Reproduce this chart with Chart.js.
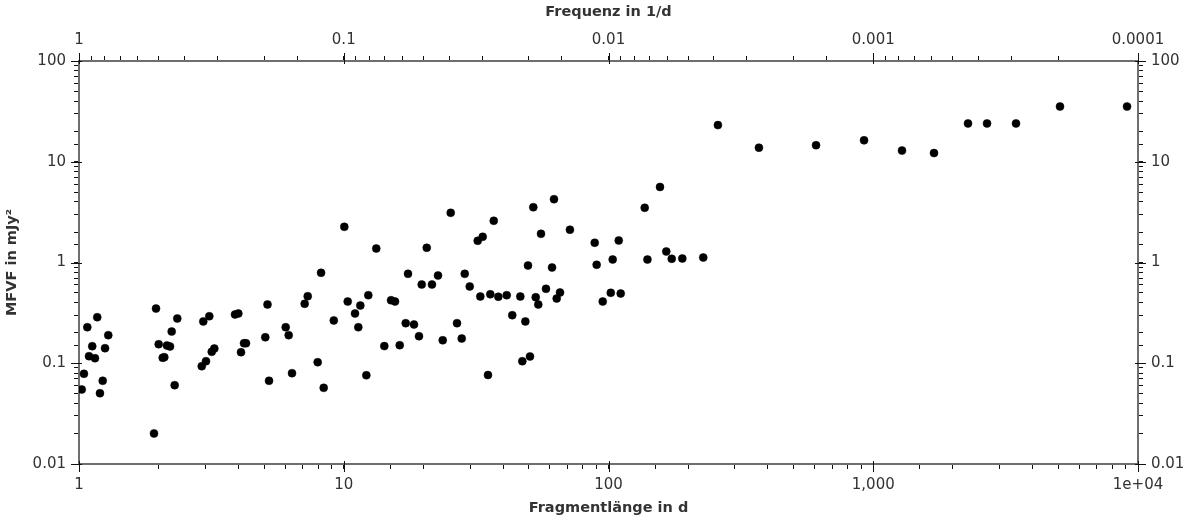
<!DOCTYPE html>
<html>
<head>
<meta charset="utf-8">
<script src="https://cdn.jsdelivr.net/npm/chart.js@4/dist/chart.umd.min.js"></script>
<style>
  html, body { margin: 0; padding: 0; background: #fff; }
</style>
</head>
<body>
<canvas id="c" width="1196" height="521"></canvas>
<script>
// Fragment length in d (x) and MFVF in mJy^2 (y)
const fragmentLength = [
  1.024, 1.044, 1.075, 1.091, 1.122, 1.149, 1.172, 1.200, 1.229, 1.254, 1.290,
  1.920, 1.954, 2.000, 2.071, 2.100, 2.149, 2.207, 2.239, 2.298, 2.351,
  2.908, 3.018, 2.948, 3.106, 3.172, 3.244, 3.884, 3.998, 4.092, 4.200, 4.274,
  5.054, 5.152, 5.221,
  6.035, 6.195, 6.376, 7.118, 7.31, 7.97, 8.21, 8.40, 9.17, 10.05, 10.35,
  11.03, 11.35, 11.55, 12.17, 12.38, 13.27, 14.23, 15.09, 15.62, 16.27,
  17.14, 17.49, 18.42, 19.24, 19.7, 20.58,
  21.54, 22.7, 23.65, 25.35, 26.78, 27.9, 28.64, 29.91, 32.06, 32.8, 33.48,
  35.06, 35.77, 36.86, 38.36, 41.26, 43.3, 46.45, 47.26, 48.52, 49.65, 50.52,
  52.0, 53.1, 54.3, 55.6, 58.06, 61.2, 62.25, 63.73, 65.6, 71.5,
  88.7, 90.2, 95.1, 102, 103.7, 109.3, 111.2, 137, 140.3, 156.5, 165.3,
  173.3, 190, 228,
  259, 370, 608, 923, 1284, 1696, 2280, 2690, 3461, 5075, 9090
];
const mfvf = [
  0.0549, 0.0786, 0.228, 0.1175, 0.1476, 0.1122, 0.2865, 0.0504, 0.067, 0.141, 0.19,
  0.0201, 0.349, 0.1545, 0.1133, 0.115, 0.15, 0.1466, 0.2066, 0.0606, 0.278,
  0.0935, 0.1048, 0.26, 0.293, 0.13, 0.14, 0.305, 0.312, 0.1287, 0.158, 0.158,
  0.181, 0.383, 0.067,
  0.228, 0.19, 0.0797, 0.389, 0.463, 0.1024, 0.79, 0.057, 0.266, 2.26, 0.41,
  0.312, 0.228, 0.374, 0.076, 0.474, 1.377, 0.148, 0.422, 0.41, 0.151,
  0.25, 0.772, 0.2425, 0.1856, 0.605, 1.40,
  0.605, 0.743, 0.169, 3.11, 0.25, 0.176, 0.772, 0.578, 1.642, 0.46, 1.80,
  0.0764, 0.484, 2.594, 0.457, 0.474, 0.30, 0.46, 0.1048, 0.26, 0.934, 0.1167,
  3.54, 0.452, 0.383, 1.927, 0.548, 0.892, 4.25, 0.439, 0.504, 2.116,
  1.57, 0.949, 0.41, 0.50, 1.071, 1.654, 0.492, 3.49, 1.07, 5.62, 1.286,
  1.088, 1.096, 1.121,
  23.1, 13.8, 14.6, 16.3, 12.9, 12.2, 24.0, 24.0, 24.0, 35.3, 35.3
];

const lengthTicks = ["1", "10", "100", "1,000", "1e+04"];
const freqTicks = ["0.0001", "0.001", "0.01", "0.1", "1"];
const mfvfTicks = ["0.01", "0.1", "1", "10", "100"];

const points = fragmentLength.map((x, i) => ({ x: x, y: mfvf[i] }));

const tickFont = { family: "DejaVu Sans", size: 15 };
const titleFont = { family: "DejaVu Sans", size: 14.5, weight: "bold" };
const textColor = "#333";

function isDecade(v) {
  const l = Math.log10(v);
  return Math.abs(l - Math.round(l)) < 1e-6;
}

// label only the powers of ten, minor ticks get an empty label
function decadeLabel(labels, minExp) {
  return function (v) {
    if (!isDecade(v)) return "";
    return labels[Math.round(Math.log10(v)) - minExp] || "";
  };
}

function axis(position, min, max, labels, minExp, size, title, pad) {
  const horizontal = position === "top" || position === "bottom";
  return {
    type: "logarithmic",
    position: position,
    min: min,
    max: max,
    border: { display: true, color: "#6e6e6e", width: 2 },
    grid: { drawOnChartArea: false, drawTicks: true, tickLength: 5, tickColor: "#111", tickWidth: 1 },
    ticks: {
      autoSkip: false,
      maxRotation: 0,
      padding: pad,
      color: textColor,
      font: tickFont,
      callback: decadeLabel(labels, minExp)
    },
    title: title ? { display: true, text: title, color: textColor, font: titleFont, padding: 4 } : { display: false },
    afterFit: function (s) {
      if (horizontal) s.height = size; else s.width = size;
    }
  };
}

// longer marks at the decades
const majorTicks = {
  id: "majorTicks",
  afterDraw(chart) {
    const ctx = chart.ctx;
    ctx.save();
    ctx.strokeStyle = "#111";
    ctx.lineWidth = 1;
    Object.values(chart.scales).forEach(s => {
      s.ticks.forEach(t => {
        if (!isDecade(t.value)) return;
        const p = Math.round(s.getPixelForValue(t.value)) + 0.5;
        ctx.beginPath();
        if (s.position === "bottom") { ctx.moveTo(p, s.top - 3); ctx.lineTo(p, s.top + 8); }
        if (s.position === "top") { ctx.moveTo(p, s.bottom + 3); ctx.lineTo(p, s.bottom - 8); }
        if (s.position === "left") { ctx.moveTo(s.right + 3, p); ctx.lineTo(s.right - 8, p); }
        if (s.position === "right") { ctx.moveTo(s.left - 3, p); ctx.lineTo(s.left + 8, p); }
        ctx.stroke();
      });
    });
    ctx.restore();
  }
};

new Chart(document.getElementById("c"), {
  type: "scatter",
  data: {
    datasets: [{
      data: points,
      backgroundColor: "#000",
      borderColor: "#000",
      borderWidth: 0.5,
      pointRadius: 4,
      xAxisID: "x",
      yAxisID: "y"
    }]
  },
  options: {
    responsive: false,
    animation: false,
    devicePixelRatio: 1,
    layout: { padding: 0 },
    plugins: { legend: { display: false }, tooltip: { enabled: false } },
    scales: {
      x: axis("bottom", 1, 10000, lengthTicks, 0, 57, "Fragmentlänge in d", 7),
      x2: Object.assign(axis("top", 0.0001, 1, freqTicks, -4, 61, "Frequenz in 1/d", 7), { reverse: true }),
      y: axis("left", 0.01, 100, mfvfTicks, -2, 79, "MFVF in mJy²", 8),
      y2: axis("right", 0.01, 100, mfvfTicks, -2, 58, null, 8)
    }
  },
  plugins: [majorTicks]
});
</script>
</body>
</html>
